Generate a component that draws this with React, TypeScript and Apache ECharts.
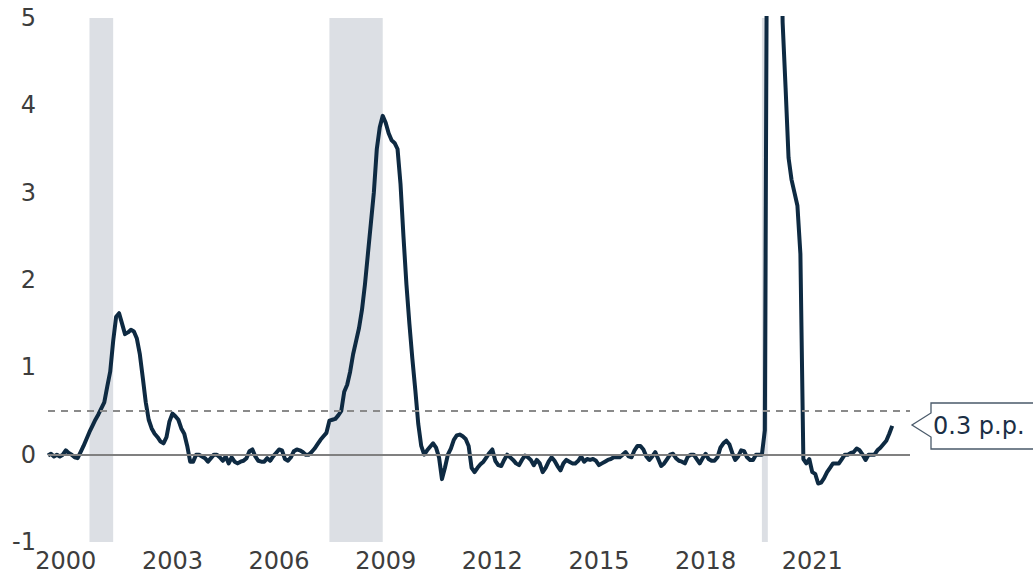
import React, { useEffect, useRef } from "react";
import * as echarts from "echarts";

// Monthly values, Jan 2000 – Oct 2023 (percentage points)
const v2000 = [-0.01, 0.01, -0.02, 0.0, -0.02, 0.0, 0.05, 0.02, 0.0, -0.03, -0.04, 0.03];
const v2001 = [0.1, 0.18, 0.26, 0.33, 0.4, 0.46, 0.53, 0.6, 0.78, 0.95, 1.3, 1.58];
const v2002 = [1.62, 1.5, 1.38, 1.4, 1.43, 1.41, 1.33, 1.15, 0.88, 0.6, 0.4, 0.3];
const v2003 = [0.24, 0.2, 0.15, 0.13, 0.2, 0.38, 0.47, 0.44, 0.4, 0.3, 0.24, 0.1];
const v2004 = [-0.08, -0.08, 0.0, 0.0, -0.02, -0.04, -0.08, -0.04, 0.0, 0.0, -0.03, -0.07];
const v2005 = [-0.02, -0.1, -0.03, -0.08, -0.1, -0.08, -0.07, -0.04, 0.04, 0.06, -0.02, -0.07];
const v2006 = [-0.08, -0.08, -0.04, -0.07, -0.02, 0.02, 0.06, 0.05, -0.05, -0.07, -0.03, 0.04];
const v2007 = [0.06, 0.05, 0.03, 0.0, 0.0, 0.03, 0.07, 0.12, 0.17, 0.21, 0.25, 0.39];
const v2008 = [0.4, 0.41, 0.45, 0.5, 0.72, 0.8, 0.95, 1.15, 1.3, 1.45, 1.66, 1.95];
const v2009 = [2.3, 2.65, 3.0, 3.5, 3.75, 3.88, 3.8, 3.68, 3.6, 3.57, 3.5, 3.1];
const v2010 = [2.5, 1.95, 1.5, 1.1, 0.74, 0.35, 0.1, 0.0, 0.05, 0.09, 0.13, 0.08];
const v2011 = [-0.03, -0.28, -0.15, 0.0, 0.07, 0.17, 0.22, 0.23, 0.21, 0.18, 0.1, -0.15];
const v2012 = [-0.2, -0.15, -0.11, -0.08, -0.03, 0.02, 0.06, -0.07, -0.12, -0.13, -0.06, 0.0];
const v2013 = [-0.03, -0.06, -0.1, -0.12, -0.06, -0.01, -0.03, -0.06, -0.12, -0.06, -0.1, -0.2];
const v2014 = [-0.15, -0.08, -0.03, -0.07, -0.13, -0.18, -0.1, -0.06, -0.08, -0.1, -0.1, -0.07];
const v2015 = [-0.02, -0.08, -0.05, -0.06, -0.05, -0.07, -0.12, -0.1, -0.08, -0.06, -0.05, -0.03];
const v2016 = [-0.03, -0.03, 0.0, 0.03, -0.02, -0.03, 0.05, 0.1, 0.1, 0.06, -0.02, -0.06];
const v2017 = [-0.02, 0.03, -0.05, -0.13, -0.1, -0.05, 0.0, 0.01, -0.04, -0.07, -0.08, -0.1];
const v2018 = [-0.02, 0.0, 0.0, -0.05, -0.1, -0.04, 0.01, -0.05, -0.07, -0.07, -0.03, 0.08];
const v2019 = [0.13, 0.16, 0.12, 0.02, -0.06, -0.02, 0.05, 0.04, -0.03, -0.06, -0.06, 0.0];
const v2020 = [0.0, 0.0, 0.28, 8.5, 9.5, 9.3, 8.8, 7.5, 4.95, 4.2, 3.4, 3.15];
const v2021 = [3.0, 2.85, 2.3, -0.05, -0.1, -0.05, -0.2, -0.22, -0.33, -0.32, -0.27, -0.2];
const v2022 = [-0.15, -0.1, -0.1, -0.1, -0.05, 0.0, 0.0, 0.02, 0.03, 0.07, 0.05, 0.0];
const v2023 = [-0.06, 0.0, 0.0, 0.0, 0.05, 0.08, 0.12, 0.16, 0.24, 0.33];

const values = [
  ...v2000, ...v2001, ...v2002, ...v2003, ...v2004, ...v2005, ...v2006, ...v2007,
  ...v2008, ...v2009, ...v2010, ...v2011, ...v2012, ...v2013, ...v2014, ...v2015,
  ...v2016, ...v2017, ...v2018, ...v2019, ...v2020, ...v2021, ...v2022, ...v2023,
];

// Monthly categories Jan 2000 – Apr 2024 (axis extent)
const months: string[] = [];
for (let y = 2000; y <= 2024; y++) {
  for (let m = 1; m <= 12; m++) {
    if (y === 2024 && m > 4) break;
    months.push(`${y}-${String(m).padStart(2, "0")}`);
  }
}

const xLabelYears = [2000, 2003, 2006, 2009, 2012, 2015, 2018, 2021];
const recessions: [string, string][] = [
  ["2001-03", "2001-11"],
  ["2007-12", "2009-06"],
  ["2020-02", "2020-04"],
];
const threshold = 0.5;
const annotationText = "0.3 p.p.";

const FONT = "DejaVu Sans";

export default function App() {
  const ref = useRef<HTMLDivElement>(null);
  useEffect(() => {
    if (!ref.current) return;
    const chart = echarts.init(ref.current, undefined, { renderer: "svg" });
    chart.setOption({
      animation: false,
      backgroundColor: "#ffffff",
      grid: { left: 48, right: 123, top: 18, bottom: 32, outerBoundsMode: "none" },
      xAxis: {
        type: "category",
        data: months,
        boundaryGap: false,
        axisLine: { show: false },
        axisTick: { show: false },
        splitLine: { show: false },
        axisLabel: {
          interval: (_i: number, v: string) =>
            v.endsWith("-07") && xLabelYears.includes(Number(v.slice(0, 4))),
          formatter: (v: string) => v.slice(0, 4),
          fontSize: 24,
          lineHeight: 24,
          fontFamily: FONT,
          color: "#3d3d3d",
          margin: 7,
        },
      },
      yAxis: {
        type: "value",
        min: -1,
        max: 5,
        interval: 1,
        axisLine: { show: false },
        axisTick: { show: false },
        splitLine: { show: false },
        axisLabel: { fontSize: 24, fontFamily: FONT, color: "#3d3d3d", margin: 12 },
      },
      series: [
        {
          type: "line",
          data: values,
          showSymbol: false,
          symbol: "none",
          clip: true,
          lineStyle: { color: "#0e2a42", width: 4, join: "round" },
          z: 3,
          markArea: {
            silent: true,
            itemStyle: { color: "#dcdfe4" },
            data: recessions.map(([a, b]) => [{ xAxis: a }, { xAxis: b }]),
          },
          markLine: {
            silent: true,
            symbol: "none",
            label: { show: false },
            data: [
              { yAxis: 0, lineStyle: { color: "#808080", width: 2, type: "solid" } },
              { yAxis: threshold, lineStyle: { color: "#8a8a8a", width: 2, type: [7, 6] } },
            ],
          },
        },
      ],
      graphic: [
        {
          type: "polygon",
          shape: {
            points: [
              [931, 403], [1045, 403], [1045, 449], [931, 449],
              [931, 437], [912, 425], [931, 413],
            ],
          },
          style: { fill: "#ffffff", stroke: "#4a5a6a", lineWidth: 1.3 },
          z: 10,
        },
        {
          type: "text",
          x: 933,
          y: 426,
          style: {
            text: annotationText,
            fontSize: 24,
            fontFamily: FONT,
            fill: "#1b2f45",
            verticalAlign: "middle",
            align: "left",
          },
          z: 11,
        },
      ],
    });
    return () => chart.dispose();
  }, []);
  return (
    <div
      ref={ref}
      style={{ position: "fixed", left: 0, top: 0, width: 1033, height: 574 }}
    />
  );
}
